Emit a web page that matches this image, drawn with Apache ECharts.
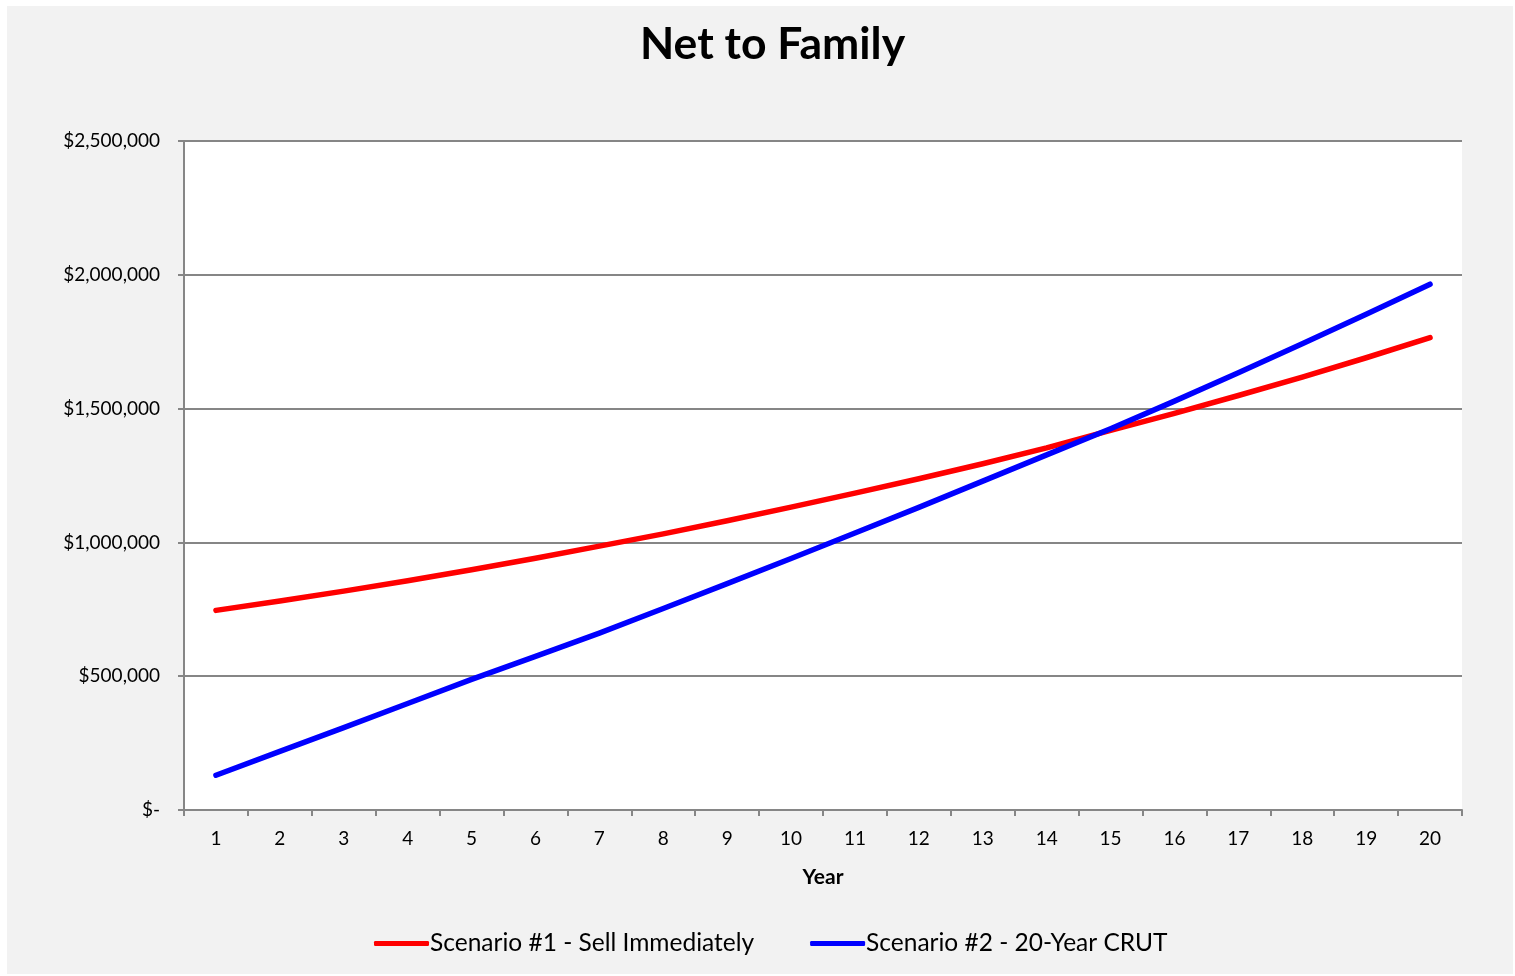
<!DOCTYPE html>
<html>
<head>
<meta charset="utf-8">
<title>Net to Family</title>
<script src="https://cdn.jsdelivr.net/npm/echarts@6/dist/echarts.min.js"></script>
<style>
  html, body { margin: 0; padding: 0; background: #ffffff; }
  #chart { position: absolute; left: 7px; top: 6px; width: 1506px; height: 968px; background: #f2f2f2; }
</style>
</head>
<body>
<div id="chart"></div>
<script>
// Projection years
const years = ['1','2','3','4','5','6','7','8','9','10','11','12','13','14','15','16','17','18','19','20'];

// Net amount passed to the family under each scenario, in dollars
const sellImmediately = [746000, 781000, 818000, 857000, 898000, 941000, 986000, 1032000, 1081000, 1132000,
                         1184000, 1238000, 1294000, 1353000, 1419000, 1482000, 1549000, 1618000, 1690000, 1765000];
const crut20Year = [130000, 219000, 308000, 398000, 488000, 574000, 661000, 753000, 846000, 940000,
                    1035000, 1131000, 1229000, 1327000, 1425000, 1528000, 1634000, 1742000, 1853000, 1965000];

const seriesNames = ['Scenario #1 - Sell Immediately', 'Scenario #2 - 20-Year CRUT'];

const font = 'Lato, "Open Sans", sans-serif';
const axisGray = '#868686';

const chart = echarts.init(document.getElementById('chart'), null, { renderer: 'canvas' });

chart.setOption({
  animation: false,
  backgroundColor: '#f2f2f2',
  title: {
    text: 'Net to Family',
    left: 628,
    top: 11,
    textStyle: { fontFamily: font, fontSize: 44.5, fontWeight: 'bold', color: '#000000' }
  },
  grid: {
    left: 177, right: 51, top: 135, bottom: 164,
    backgroundColor: '#ffffff', show: true, borderWidth: 0
  },
  legend: {
    bottom: 13,
    left: 362,
    itemWidth: 55,
    itemHeight: 5,
    itemGap: 56,
    icon: 'roundRect',
    textStyle: { fontFamily: font, fontSize: 24.5, color: '#000000', padding: [0, 0, 0, -4] },
    data: seriesNames
  },
  xAxis: {
    type: 'category',
    data: years,
    boundaryGap: true,
    name: 'Year',
    nameLocation: 'middle',
    nameGap: 57,
    nameTextStyle: { fontFamily: font, fontSize: 21, fontWeight: 'bold', color: '#000000' },
    axisLine: { lineStyle: { color: axisGray, width: 2 } },
    axisTick: { show: true, length: 6, lineStyle: { color: axisGray, width: 2 } },
    axisLabel: { margin: 19, fontFamily: font, fontSize: 19, color: '#000000' }
  },
  yAxis: {
    type: 'value',
    min: 0,
    max: 2500000,
    interval: 500000,
    axisLine: { show: true, lineStyle: { color: axisGray, width: 2 } },
    axisTick: { show: true, length: 6, lineStyle: { color: axisGray, width: 2 } },
    splitLine: { show: true, lineStyle: { color: axisGray, width: 2 } },
    axisLabel: {
      margin: 24,
      fontFamily: font, fontSize: 19, color: '#000000',
      formatter: function (v) { return v === 0 ? '$-' : '$' + v.toLocaleString('en-US'); }
    }
  },
  series: [
    {
      name: seriesNames[0],
      type: 'line',
      data: sellImmediately,
      showSymbol: false,
      symbol: 'none',
      color: '#ff0000',
      lineStyle: { color: '#ff0000', width: 5.5, cap: 'round', join: 'round' }
    },
    {
      name: seriesNames[1],
      type: 'line',
      data: crut20Year,
      showSymbol: false,
      symbol: 'none',
      color: '#0000ff',
      lineStyle: { color: '#0000ff', width: 5.5, cap: 'round', join: 'round' }
    }
  ]
});
</script>
</body>
</html>
